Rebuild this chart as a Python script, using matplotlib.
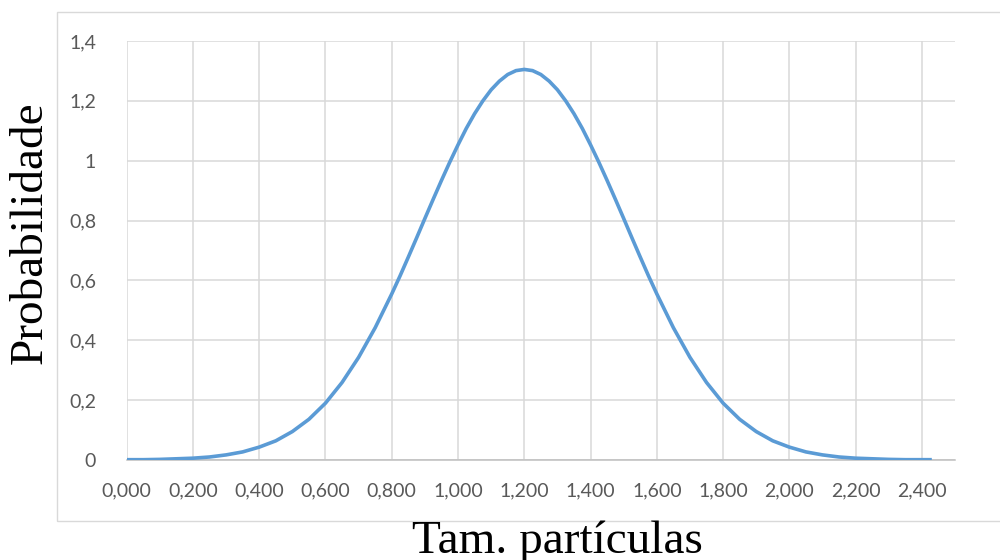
import matplotlib
matplotlib.use("Agg")
import matplotlib.pyplot as plt
from matplotlib.patches import Rectangle

# Particle size (mm) and probability density
tamanho = [0.00, 0.05, 0.10, 0.15, 0.20, 0.25, 0.30, 0.35, 0.40, 0.45,
           0.50, 0.55, 0.60, 0.65, 0.70, 0.75, 0.80, 0.825, 0.85, 0.875,
           0.90, 0.925, 0.95, 0.975, 1.00, 1.025, 1.05, 1.075, 1.10, 1.125,
           1.15, 1.175, 1.20, 1.225, 1.25, 1.275, 1.30, 1.325, 1.35, 1.375,
           1.40, 1.425, 1.45, 1.475, 1.50, 1.525, 1.55, 1.575, 1.60, 1.65,
           1.70, 1.75, 1.80, 1.85, 1.90, 1.95, 2.00, 2.05, 2.10, 2.15,
           2.20, 2.25, 2.30, 2.35, 2.40, 2.43]
probabilidade = [0.001, 0.001, 0.002, 0.004, 0.006, 0.010, 0.017, 0.027, 0.043, 0.064,
                 0.095, 0.136, 0.190, 0.259, 0.343, 0.442, 0.555, 0.615, 0.678, 0.742,
                 0.807, 0.871, 0.934, 0.995, 1.053, 1.108, 1.157, 1.200, 1.237, 1.266,
                 1.288, 1.301, 1.305, 1.301, 1.288, 1.266, 1.237, 1.200, 1.157, 1.108,
                 1.053, 0.995, 0.934, 0.871, 0.807, 0.742, 0.678, 0.615, 0.555, 0.442,
                 0.343, 0.259, 0.190, 0.136, 0.095, 0.064, 0.043, 0.027, 0.017, 0.010,
                 0.006, 0.004, 0.002, 0.001, 0.001, 0.001]

x_ticks = [0.0, 0.2, 0.4, 0.6, 0.8, 1.0, 1.2, 1.4, 1.6, 1.8, 2.0, 2.2, 2.4]
x_tick_labels = ["0,000", "0,200", "0,400", "0,600", "0,800", "1,000", "1,200",
                 "1,400", "1,600", "1,800", "2,000", "2,200", "2,400"]
y_ticks = [0.0, 0.2, 0.4, 0.6, 0.8, 1.0, 1.2, 1.4]
y_tick_labels = ["0", "0,2", "0,4", "0,6", "0,8", "1", "1,2", "1,4"]

fig = plt.figure(figsize=(10, 5.6), dpi=100)
fig.patch.set_facecolor("white")

# chart-area border
fig.patches.append(Rectangle((0.057, 0.069), 1.0, 0.91, transform=fig.transFigure,
                             fill=False, edgecolor="#D9D9D9", linewidth=1.0,
                             clip_on=False))

ax = fig.add_axes([0.1267, 0.1786, 0.8283, 0.7482])
ax.plot(tamanho, probabilidade, color="#5B9BD5", linewidth=2.6,
        solid_capstyle="butt", solid_joinstyle="round", zorder=3)

ax.set_xlim(0, 2.5)
ax.set_ylim(0, 1.4)
ax.set_xticks(x_ticks)
ax.set_xticklabels(x_tick_labels)
ax.set_yticks(y_ticks)
ax.set_yticklabels(y_tick_labels)

for lab in ax.get_xticklabels() + ax.get_yticklabels():
    lab.set_family("Lato")
    lab.set_fontsize(14)
    lab.set_color("#595959")

ax.tick_params(axis="both", length=0)
ax.tick_params(axis="x", pad=16)
ax.tick_params(axis="y", pad=22)
ax.grid(True, color="#D9D9D9", linewidth=1.1, zorder=0)
ax.set_axisbelow(True)
for side in ["top", "right", "left"]:
    ax.spines[side].set_visible(False)
ax.spines["bottom"].set_color("#BFBFBF")
ax.spines["bottom"].set_linewidth(1.1)

fig.text(0.030, 0.585, "Probabilidade", family="Liberation Serif", fontsize=34,
         rotation=90, ha="center", va="center", color="black")
fig.text(0.557, 0.012, "Tam. partículas", family="Liberation Serif", fontsize=34,
         ha="center", va="baseline", color="black")

fig.savefig("out.png", dpi=100, facecolor="white")
